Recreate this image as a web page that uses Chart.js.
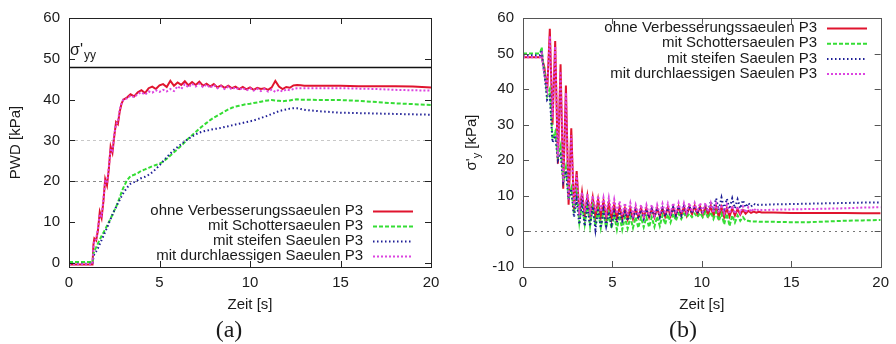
<!DOCTYPE html>
<html><head><meta charset="utf-8">
<script src="https://cdn.jsdelivr.net/npm/chart.js@4.4.1/dist/chart.umd.min.js"></script>
<style>
html,body{margin:0;padding:0;background:#fff;}
#wrap{position:relative;width:896px;height:344px;overflow:hidden;background:#fff;}
canvas{position:absolute;top:0;}
</style></head><body>
<div id="wrap">
<canvas id="ca" width="448" height="344" style="left:0;width:448px;height:344px"></canvas>
<canvas id="cb" width="448" height="344" style="left:448px;width:448px;height:344px"></canvas>
</div>
<script>
// ---------- shared ----------
const seriesNames = ['ohne Verbesserungssaeulen P3','mit Schottersaeulen P3','mit steifen Saeulen P3','mit durchlaessigen Saeulen P3'];
const xTicks = [0, 5, 10, 15, 20];
const yTicksA = [0, 10, 20, 30, 40, 50, 60];
const yTicksB = [-10, 0, 10, 20, 30, 40, 50, 60];
const xTitle = 'Zeit [s]';
const yTitleA = 'PWD [kPa]';
const limitA = 48;          // sigma'_yy reference line
const gridA = [20, 30];
const gridB = [0];

// ---------- chart (a): PWD ----------
const tA = [0, 0.5, 1.0, 1.3, 1.35, 1.4, 1.5, 1.6, 1.7, 1.8, 1.9, 2.0, 2.1, 2.2, 2.3, 2.4, 2.5, 2.6, 2.7, 2.8, 2.9, 3.0,
  3.2, 3.4, 3.6, 3.8, 4.0, 4.2, 4.4, 4.6, 4.8, 5.0,
  5.2, 5.4, 5.6, 5.8, 6.0, 6.2, 6.4, 6.6, 6.8, 7.0,
  7.2, 7.4, 7.6, 7.8, 8.0, 8.2, 8.4, 8.6, 8.8, 9.0,
  9.2, 9.4, 9.6, 9.8, 10.0, 10.2, 10.4, 10.6, 10.8, 11.0,
  11.2, 11.4, 11.6, 11.8, 12.0, 12.2, 12.4, 12.6, 12.8, 13.0,
  14, 15, 16, 17, 18, 19, 20];
const ohneA = [-0.4, -0.4, -0.4, -0.4, 4.5, 6.0, 5.5, 8.0, 12.5, 11.0, 15.0, 20.5, 19.0, 23.0, 28.5, 27.0, 31.0, 34.5, 34.0, 37.0, 39.0, 40.0,
  40.5, 41.3, 40.8, 41.8, 42.3, 41.6, 42.8, 43.2, 42.6, 43.5,
  43.8, 43.1, 44.6, 43.4, 44.2, 43.6, 44.5, 43.5, 44.3, 43.6,
  44.4, 43.4, 43.9, 43.2, 43.8, 43.0, 43.5, 42.9, 43.4, 42.8,
  43.2, 42.6, 43.1, 42.5, 43.0, 42.4, 42.9, 42.6, 42.8, 42.4,
  43.0, 44.6, 43.2, 42.6, 43.1, 42.9, 43.5, 43.6, 43.5, 43.4,
  43.4, 43.4, 43.3, 43.3, 43.3, 43.2, 43.0];
const schotterA = [0.2, 0.2, 0.2, 0.2, 2.2, 3.0, 3.8, 4.8, 5.7, 6.6, 7.4, 8.2, 9.1, 10.0, 10.9, 11.8, 12.8, 13.7, 14.8, 16.0, 17.3, 18.4,
  20.2, 21.3, 21.6, 22.0, 22.6, 22.9, 23.3, 23.7, 24.0, 24.3,
  24.8, 25.5, 26.3, 27.1, 27.9, 28.7, 29.6, 30.5, 31.3, 32.1,
  32.9, 33.6, 34.3, 35.0, 35.6, 36.1, 36.6, 37.1, 37.6, 38.0,
  38.3, 38.5, 38.7, 38.9, 39.0, 39.2, 39.3, 39.5, 39.7, 39.8,
  39.9, 39.8, 39.7, 39.6, 39.7, 39.8, 40.0, 40.1, 40.0, 40.0,
  39.9, 39.9, 39.7, 39.4, 39.1, 38.9, 38.7];
const steifA = [-0.2, -0.2, -0.2, -0.2, 1.5, 2.2, 2.8, 3.6, 4.6, 5.6, 6.6, 7.6, 8.6, 9.7, 10.8, 11.8, 12.8, 13.7, 14.6, 15.4, 16.3, 17.1,
  18.4, 19.4, 19.8, 20.3, 20.8, 21.1, 21.6, 22.2, 23.0, 23.9,
  24.9, 25.9, 26.8, 27.7, 28.4, 29.1, 29.8, 30.4, 31.0, 31.5,
  31.9, 32.2, 32.4, 32.6, 32.8, 32.9, 33.1, 33.3, 33.5, 33.7,
  33.9, 34.1, 34.3, 34.5, 34.7, 34.9, 35.2, 35.5, 35.8, 36.1,
  36.5, 36.8, 37.2, 37.4, 37.6, 37.8, 37.9, 37.9, 37.7, 37.5,
  37.1, 36.8, 36.7, 36.6, 36.5, 36.4, 36.3];
const durchA = [-0.3, -0.3, -0.3, -0.3, 4.0, 5.5, 5.8, 8.5, 12.0, 11.5, 15.5, 20.0, 19.5, 23.5, 28.0, 27.5, 31.5, 34.0, 34.5, 37.5, 39.0, 40.0,
  40.3, 41.0, 40.6, 41.4, 41.8, 41.2, 42.0, 41.7, 42.3, 41.9,
  42.4, 42.0, 42.6, 42.1, 43.3, 42.6, 43.8, 43.0, 43.9, 43.2,
  43.9, 43.1, 43.7, 42.9, 43.6, 42.8, 43.3, 42.6, 43.2, 42.5,
  43.0, 42.4, 42.9, 42.2, 42.8, 42.2, 42.7, 42.1, 42.6, 42.0,
  42.5, 41.9, 42.4, 42.0, 42.5, 42.3, 42.6, 42.8, 42.8, 42.8,
  42.8, 42.8, 42.7, 42.6, 42.4, 42.3, 42.2];

// ---------- chart (b): sigma'_y ----------
const tB = [0, 0.5, 0.95, 1.05, 1.1,
  1.20, 1.35, 1.50, 1.65, 1.80, 1.95, 2.10, 2.25, 2.40, 2.55,
  2.70, 2.85, 3.00, 3.15, 3.30, 3.45, 3.60, 3.75, 3.90, 4.05,
  4.20, 4.35, 4.50, 4.65, 4.80, 4.95, 5.10, 5.25, 5.40, 5.55,
  5.70, 5.85, 6.00, 6.15, 6.30, 6.45, 6.60, 6.75, 6.90, 7.05,
  7.20, 7.35, 7.50, 7.65, 7.80, 7.95, 8.10, 8.25, 8.40, 8.55,
  8.70, 8.85, 9.00, 9.15, 9.30, 9.45, 9.60, 9.75, 9.90, 10.05,
  10.20, 10.35, 10.50, 10.65, 10.80, 10.95, 11.10, 11.25, 11.40, 11.55,
  11.70, 11.85, 12.00, 12.15, 12.30, 12.45, 12.60, 12.75, 12.90, 13.05,
  13.20, 13.35, 13.50,
  14, 15, 16, 17, 18, 19, 20];
const ohneB = [49.0, 49.0, 49.0, 49.5, 48.0,
  46, 39, 57, 30, 53.5, 19, 47, 12, 41, 7.5,
  29, 6, 17, 5, 11, 4.5, 10, 4.5, 9.5, 4,
  9, 4, 8.5, 3.5, 8, 3.5, 7.5, 3.5, 7, 3.5,
  6.5, 3.5, 6.5, 3.5, 6.5, 4, 6.5, 4, 6.5, 4,
  6.5, 4, 6.5, 4.2, 6.5, 4.2, 6.8, 4.3, 6.8, 4.5,
  7, 4.5, 7, 4.5, 7, 4.8, 7.2, 4.8, 7, 4.5,
  7, 4.5, 7.2, 4.2, 7, 4, 6.8, 4, 6.5, 4.2,
  6.5, 4.5, 6.3, 4.7, 6, 5, 5.8, 5.2, 5.6, 5.3,
  5.5, 5.3, 5.3,
  5.3, 5.2, 5.2, 5.2, 5.2, 5.1, 5.1];
const schotterB = [50.0, 50.0, 50.0, 51.8, 48.0,
  45, 38, 40, 26, 28, 21, 24, 14, 18, 9,
  12, 5, 11, 2.5, 8, 2, 7.5, 1.5, 7, 1.5,
  6, 1, 5.5, 1, 5, 0.8, 4.5, 0.5, 4.5, 0.5,
  4, 0.8, 4, 1, 4, 1, 4, 1.2, 4, 1.2,
  4, 1.3, 4.2, 1.5, 4.5, 2, 4.8, 2.5, 5, 3,
  5, 3.5, 5, 4, 5, 4, 5, 4, 5.2, 4,
  5.5, 3.8, 5.5, 3.5, 5.5, 3, 5, 2, 5, 1.5,
  4.5, 2.5, 4.5, 3, 4, 3, 3, 2.8, 2.8, 2.8,
  2.7, 2.7, 2.7,
  2.7, 2.6, 2.6, 2.8, 3.0, 3.1, 3.2];
const steifB = [49.5, 49.5, 49.5, 51.0, 48.0,
  44, 37, 38, 25, 27, 20, 22, 14, 17, 9,
  12, 4, 9, 2, 8, 1.5, 7.5, 1.5, 7, 0.5,
  6.5, 1, 6, 1.5, 5.5, 2, 5.5, 2.5, 5.5, 3,
  5.5, 3, 5.5, 3.5, 6, 3.5, 6, 3.5, 6.2, 3.8,
  6.3, 4, 6.5, 4, 6.5, 4.2, 6.5, 4.2, 6.8, 4.5,
  7, 4.5, 7, 4.8, 7.2, 5, 7.2, 5, 7, 5,
  7.5, 5.5, 8.5, 6, 9.3, 6, 9.5, 6.2, 9.2, 6.3,
  9.3, 6.5, 9, 6.5, 8.8, 6.8, 8, 7, 7.8, 7.3,
  7.6, 7.5, 7.5,
  7.6, 7.7, 7.8, 7.9, 8.0, 8.1, 8.1];
const durchB = [49.0, 49.0, 49.0, 50.0, 47.0,
  44, 40, 55, 32, 52, 21, 45, 14, 39, 9,
  27, 7, 16, 6, 11, 5.5, 10.5, 5.5, 10, 5.5,
  10, 5.5, 9.5, 5, 9.5, 5, 9, 5, 8.5, 4.5,
  8, 4.5, 8, 4.5, 7.5, 4.5, 7.5, 4.5, 7.5, 4.5,
  7.5, 4.5, 7.5, 4.8, 7.8, 5, 7.8, 5, 8, 5,
  8, 5.2, 8, 5.2, 8, 5.5, 8, 5.5, 8, 5.5,
  8, 5.5, 8, 5.2, 7.8, 5.2, 7.5, 5, 7.5, 5,
  7.2, 5, 7, 5.2, 7, 5.3, 6.8, 5.5, 6.5, 5.7,
  6.3, 6, 6,
  6.1, 6.2, 6.3, 6.4, 6.5, 6.7, 6.8];

// ---------- styling ----------
const FONT = "'Liberation Sans', Arial, Helvetica, sans-serif";
const SERIF = "'Liberation Serif', 'Times New Roman', serif";
const TXT = '#1a1a1a';
const RED = '#e0142e', GREEN = '#35dd35', BLUE = '#1e1e96', MAG = '#dc44e0';
const styles = [
  {color: RED, dash: [], width: 2, order: 4},
  {color: GREEN, dash: [4, 2], width: 2, order: 3},
  {color: BLUE, dash: [1.5, 2.5], width: 2, order: 2},
  {color: MAG, dash: [2, 2], width: 2, order: 1}
];

function pts(t, v) { const n = Math.min(t.length, v.length); const out = []; for (let i = 0; i < n; i++) out.push({x: t[i], y: v[i]}); return out; }
function datasets(t, arrs) {
  return arrs.map((a, i) => ({
    label: seriesNames[i], data: pts(t, a), borderColor: styles[i].color, backgroundColor: styles[i].color,
    borderWidth: styles[i].width, borderDash: styles[i].dash, order: styles[i].order,
    pointRadius: 0, tension: 0, fill: false
  }));
}

const framePlugin = {
  id: 'frame',
  beforeDatasetsDraw(chart, args, o) {
    const {ctx, chartArea: a, scales: {y}} = chart;
    ctx.save();
    (o.grid || []).forEach(g => {
      const py = Math.round(y.getPixelForValue(g.v)) + 0.5;
      ctx.strokeStyle = g.color; ctx.lineWidth = 1; ctx.setLineDash(g.dash);
      ctx.beginPath(); ctx.moveTo(a.left, py); ctx.lineTo(a.right, py); ctx.stroke();
    });
    ctx.setLineDash([]);
    if (o.limit !== undefined) {
      const py = Math.round(y.getPixelForValue(o.limit)) + 0.5;
      ctx.strokeStyle = '#111'; ctx.lineWidth = 1.3;
      ctx.beginPath(); ctx.moveTo(a.left, py); ctx.lineTo(a.right, py); ctx.stroke();
    }
    ctx.restore();
  },
  afterDraw(chart, args, o) {
    const {ctx, chartArea: a, scales: {x, y}} = chart;
    ctx.save();
    // frame + inward ticks
    ctx.strokeStyle = o.frameColor; ctx.lineWidth = 1; ctx.setLineDash([]);
    ctx.beginPath();
    o.yt.forEach(v => { const py = Math.round(y.getPixelForValue(v)) + 0.5;
      ctx.moveTo(a.left, py); ctx.lineTo(a.left + 6, py); ctx.moveTo(a.right, py); ctx.lineTo(a.right - 6, py); });
    o.xt.forEach(v => { const px = Math.round(x.getPixelForValue(v)) + 0.5;
      ctx.moveTo(px, a.bottom); ctx.lineTo(px, a.bottom - 6); ctx.moveTo(px, a.top); ctx.lineTo(px, a.top + 6); });
    ctx.stroke();
    ctx.strokeRect(Math.round(a.left) + 0.5, Math.round(a.top) + 0.5, Math.round(a.right - a.left), Math.round(a.bottom - a.top));
    // legend
    ctx.font = '15px ' + FONT; ctx.fillStyle = TXT; ctx.textAlign = 'right'; ctx.textBaseline = 'middle';
    seriesNames.forEach((name, i) => {
      const yy = o.legend.y0 + i * o.legend.dy;
      ctx.fillText(name, o.legend.textRight, yy);
      ctx.strokeStyle = styles[i].color; ctx.lineWidth = styles[i].width; ctx.setLineDash(styles[i].dash);
      ctx.beginPath(); ctx.moveTo(o.legend.x1, yy + 0.5); ctx.lineTo(o.legend.x2, yy + 0.5); ctx.stroke();
    });
    ctx.setLineDash([]);
    if (o.extra) o.extra(ctx, chart);
    ctx.restore();
  }
};

function scaleOpts(min, max, ticksArr, fitFn, titleCfg, pad) {
  return {
    type: 'linear', min: min, max: max,
    afterFit: fitFn,
    afterBuildTicks(s) { s.ticks = ticksArr.map(v => ({value: v})); },
    grid: {display: false, drawTicks: false}, border: {display: false},
    ticks: {padding: pad, font: {family: FONT, size: 15}, color: TXT, maxRotation: 0, autoSkip: false},
    title: titleCfg
  };
}

// ---------- chart (a) ----------
new Chart(document.getElementById('ca'), {
  type: 'line',
  data: {datasets: datasets(tA, [ohneA, schotterA, steifA, durchA])},
  options: {
    responsive: false, animation: false, devicePixelRatio: 1,
    layout: {padding: {top: 16, right: 17, left: 0, bottom: 0}},
    plugins: {
      legend: {display: false}, tooltip: {enabled: false},
      frame: {
        frameColor: '#222', yt: yTicksA, xt: xTicks, limit: limitA,
        grid: [{v: gridA[0], color: '#8a8a8a', dash: [3, 3]}, {v: gridA[1], color: '#c8c8c8', dash: [3, 3]}],
        legend: {y0: 211, dy: 15, textRight: 363, x1: 373, x2: 413},
        extra(ctx) {
          ctx.fillStyle = TXT; ctx.textAlign = 'left'; ctx.textBaseline = 'alphabetic';
          ctx.font = '16px ' + FONT; ctx.fillText("σ'", 70, 55);
          const w = ctx.measureText("σ'").width;
          ctx.font = '12px ' + FONT; ctx.fillText('yy', 70 + w + 1, 59);
          ctx.font = '24px ' + SERIF; ctx.textAlign = 'center'; ctx.textBaseline = 'middle';
          ctx.fillText('(a)', 229, 331);
        }
      }
    },
    scales: {
      x: scaleOpts(0, 20, xTicks, s => { s.height = 77; },
        {display: true, text: xTitle, font: {family: FONT, size: 15}, color: TXT, padding: {top: 0, bottom: 30}}, 7),
      y: scaleOpts(-1, 60, yTicksA, s => { s.width = 69; },
        {display: true, text: yTitleA, font: {family: FONT, size: 15}, color: TXT, padding: {top: 7, bottom: 0}}, 9)
    }
  },
  plugins: [framePlugin]
});

// ---------- chart (b) ----------
new Chart(document.getElementById('cb'), {
  type: 'line',
  data: {datasets: datasets(tB, [ohneB, schotterB, steifB, durchB])},
  options: {
    responsive: false, animation: false, devicePixelRatio: 1,
    layout: {padding: {top: 16, right: 12, left: 0, bottom: 0}},
    plugins: {
      legend: {display: false}, tooltip: {enabled: false},
      frame: {
        frameColor: '#555', yt: yTicksB, xt: xTicks,
        grid: [{v: gridB[0], color: '#777', dash: [2, 4]}],
        legend: {y0: 28, dy: 15.2, textRight: 369, x1: 379, x2: 419},
        extra(ctx, chart) {
          const a = chart.chartArea;
          ctx.save();
          ctx.translate(24, (a.top + a.bottom) / 2);
          ctx.rotate(-Math.PI / 2);
          ctx.fillStyle = TXT; ctx.textBaseline = 'middle'; ctx.textAlign = 'left';
          ctx.font = '15px ' + FONT; const w1 = ctx.measureText("σ'").width; const w3 = ctx.measureText(' [kPa]').width;
          ctx.font = '11px ' + FONT; const w2 = ctx.measureText('y').width;
          let x0 = -(w1 + w2 + w3) / 2;
          ctx.font = '15px ' + FONT; ctx.fillText("σ'", x0, 0);
          ctx.font = '11px ' + FONT; ctx.fillText('y', x0 + w1, 5);
          ctx.font = '15px ' + FONT; ctx.fillText(' [kPa]', x0 + w1 + w2, 0);
          ctx.restore();
          ctx.fillStyle = TXT; ctx.font = '24px ' + SERIF; ctx.textAlign = 'center'; ctx.textBaseline = 'middle';
          ctx.fillText('(b)', 235, 331);
        }
      }
    },
    scales: {
      x: scaleOpts(0, 20, xTicks, s => { s.height = 77; },
        {display: true, text: xTitle, font: {family: FONT, size: 15}, color: TXT, padding: {top: 0, bottom: 30}}, 7),
      y: scaleOpts(-10, 60, yTicksB, s => { s.width = 75; }, {display: false}, 9)
    }
  },
  plugins: [framePlugin]
});
</script>
</body></html>
